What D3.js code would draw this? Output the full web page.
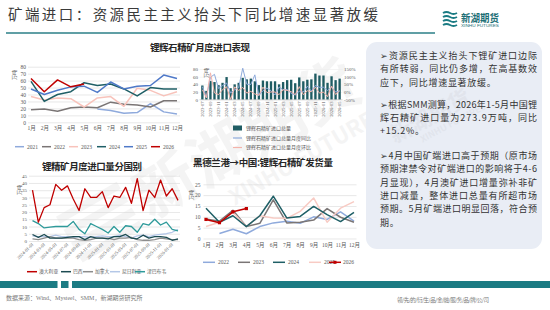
<!DOCTYPE html>
<html>
<head>
<meta charset="utf-8">
<script src="https://cdn.jsdelivr.net/npm/d3@7"></script>
<style>
  html, body { margin: 0; padding: 0; background: #fff; }
  svg { display: block; }
</style>
</head>
<body>
<div id="chart"></div>
<script>
// ---- data ----
const months = ['1月','2月','3月','4月','5月','6月','7月','8月','9月','10月','11月','12月'];

// 锂辉石精矿月度进口 (万吨)
const imp2021 = [null,null,null,null,null,19,17,13,14,27,15,12];
const imp2022 = [18,19,16,21,22,21,29,26,25,22,31,31];
const imp2023 = [37,32,35,34,22,35,37,23,49,46,38,44];
const imp2024 = [59,30,40,44,57,53,55,48,38,50,48,48];
const imp2025 = [48,40,46,51,52,43,58,48,52,53,68,63];
const imp2026 = [63,44,61,51,55];

// 进口总量 / 同比 / 环比
const ymLabels = ['2023-07','2023-08','2023-09','2023-10','2023-11','2023-12',
  '2024-01','2024-02','2024-03','2024-04','2024-05','2024-06','2024-07','2024-08','2024-09','2024-10','2024-11','2024-12',
  '2025-01','2025-02','2025-03','2025-04','2025-05','2025-06','2025-07','2025-08','2025-09','2025-10','2025-11','2025-12',
  '2026-01','2026-02','2026-03','2026-04','2026-05'];
const totalImp = [37,23,49,46,38,44, 59,30,40,44,57,53,55,48,38,50,48,48, 48,40,46,51,52,43,58,48,52,53,68,63, 63,44,61,51,55];
const yoyPct = [35,-35,96,115,23,42, 59,-6,14,29,155,51,49,112,-24,9,26,9, -19,33,15,16,-9,-19,5,0,37,6,42,31, 31,10,33,0,6];
const momPct = [15,-38,125,-6,-17,16, 34,-49,33,10,30,-7,4,-13,-21,32,-4,0, 0,-17,15,11,2,-17,35,-17,8,2,31,-7, 0,-30,39,-16,8];

// 分国别 (万吨)
const cDates = ['2024-01-01','2024-02-01','2024-03-01','2024-04-01','2024-05-01','2024-06-01','2024-07-01','2024-08-01',
  '2024-09-01','2024-10-01','2024-11-01','2024-12-01','2025-01-01','2025-02-01','2025-03-01','2025-04-01','2025-05-01',
  '2025-06-01','2025-07-01','2025-08-01','2025-09-01','2025-10-01','2025-11-01','2025-12-01','2026-01-01','2026-02-01'];
const australia = [35,13,23,25,39,35,38,29,21,36,30,30,34,23,31,30,37,26,43,21,35,30,42,31,36,28];
const brazil    = [4.5,2.5,4.5,2,2,2,2.5,3,3,1,3,2,2,1.5,3,3,4.5,2,1.5,4,2,3,3,2.5,0.5,1.5];
const canada    = [1.5,1,2,3,2,2,2,2,1,0.5,1,2,2,2,1,2,2,2.5,1,0.5,0.5,1,2,1.5,1,1];
const nigeria   = [3.5,3,3,3,4,3,3,2.5,3,3,2.5,3,3.5,3,3,4,3,2,3.5,4,3,4,4.5,5,6,8];
const zimbabwe  = [14,12,9,9.5,10,10,10,13.5,8,5,12,10,8,5.5,10,6,10.5,10,6,12,11,15,11,13,8,7];

// 黑德兰港→中国 发货量 (万吨)
const ph2022 = [null,2.3,4.3,2.2,5.5,7.2,8,7,10,8.8,12.3,8];
const ph2023 = [9,8,13,5.5,7,17.8,7.2,7.5,8.5,13.8,9.8,7.5];
const ph2024 = [14,7.5,10.5,5.5,10.5,19.5,9.5,10.2,14.8,11,7.8,12];
const ph2025 = [5.5,7.5,12,5.5,10.5,9.5,9.3,12.5,18.7,7.5,14,17];
const ph2026 = [8.8,7.3,12.3,13.8];

const notes = [
  { y: 56,    t: '➢资源民主主义抬头下锂矿进口边际', full: true },
  { y: 69.3,  t: '有所转弱，同比仍多增，在高基数效', full: true },
  { y: 82.7,  t: '应下，同比增速显著放缓。', full: false },
  { y: 105,   t: '➢根据SMM测算，2026年1-5月中国锂', full: true },
  { y: 118.3, t: '辉石精矿进口量为273.9万吨，同比', full: true },
  { y: 131.2, t: '+15.2%。', full: false },
  { y: 156,   t: '➢4月中国矿端进口高于预期（原市场', full: true },
  { y: 169.3, t: '预期津禁令对矿端进口的影响将于4-6', full: true },
  { y: 182.7, t: '月显现），4月澳矿进口增量弥补非矿', full: true },
  { y: 196,   t: '进口减量，整体进口总量有所超市场', full: true },
  { y: 209.3, t: '预期。5月矿端进口明显回落，符合预', full: true },
  { y: 222.7, t: '期。', full: false }
];

// ---- setup ----
const SERIF = '"Liberation Serif","Noto Sans CJK SC",serif';
const CJK = '"Noto Sans CJK SC","Noto Sans",sans-serif';
const TEAL = '#1b7b83';

const svg = d3.select('#chart').append('svg')
  .attr('width', 550).attr('height', 310)
  .attr('viewBox', '0 0 550 310');
svg.append('rect').attr('width', 550).attr('height', 310).attr('fill', '#fff');

// watermark
const wm = svg.append('g').attr('transform', 'translate(185,200) rotate(-30)')
  .attr('fill', '#8a8a8a').attr('opacity', 0.09).attr('font-family', CJK);
wm.append('text').attr('x', -40).attr('y', 0).attr('font-size', 62).attr('font-weight', 'bold').text('新湖期货');
wm.append('text').attr('x', 40).attr('y', 30).attr('font-size', 22).attr('font-weight', 'bold').text('XINHU FUTURES');
[0, 1, 2, 3].forEach(i => {
  wm.append('rect').attr('x', -120).attr('y', -50 + i * 15).attr('width', 70).attr('height', 8);
});

// header
svg.append('text')
  .attr('x', 8).attr('y', 15).attr('dy', '0.35em')
  .attr('font-family', CJK).attr('font-size', 14.5).attr('fill', '#3a3a3a')
  .attr('textLength', 370).attr('lengthAdjust', 'spacing')
  .text('矿端进口：资源民主主义抬头下同比增速显著放缓');
svg.append('line').attr('x1', 6).attr('x2', 435).attr('y1', 33).attr('y2', 33)
  .attr('stroke', '#2b7f87').attr('stroke-width', 1.3);

// logo
const logo = svg.append('g').attr('transform', 'translate(443,11)');
[0, 1, 2, 3].forEach(i => {
  logo.append('path')
    .attr('d', `M0,${2 + i * 4} q3.5,-2 7,0 t7,0`)
    .attr('fill', 'none').attr('stroke', TEAL).attr('stroke-width', 2);
});
logo.append('text').attr('x', 18).attr('y', 7).attr('dy', '0.35em')
  .attr('font-family', CJK).attr('font-size', 10.5).attr('font-weight', 'bold').attr('fill', '#1d6f76')
  .attr('textLength', 38).attr('lengthAdjust', 'spacingAndGlyphs').text('新湖期货');
logo.append('text').attr('x', 18).attr('y', 15).attr('dy', '0.35em')
  .attr('font-family', '"Liberation Sans",sans-serif').attr('font-size', 3.5).attr('fill', '#1d6f76')
  .attr('textLength', 38).attr('lengthAdjust', 'spacingAndGlyphs').text('XINHU FUTURES');

// ---- helpers ----
function styleAxis(g, size) {
  g.select('.domain').remove();
  g.selectAll('line').attr('stroke', '#d9d9d9').attr('stroke-width', 0.6);
  g.selectAll('text').attr('font-size', size || 5.5).attr('fill', '#595959').attr('font-family', SERIF);
}

function chartTitle(x, y, w, t) {
  svg.append('text').attr('x', x).attr('y', y).attr('dy', '0.35em')
    .attr('text-anchor', 'middle').attr('font-family', CJK).attr('font-size', 9.5)
    .attr('font-weight', 'bold').attr('fill', '#262626')
    .attr('textLength', w).attr('lengthAdjust', 'spacing').text(t);
}

function unitLabel(x, y) {
  svg.append('text').attr('transform', `translate(${x},${y}) rotate(-90)`)
    .attr('text-anchor', 'middle').attr('dy', '0.35em')
    .attr('font-family', CJK).attr('font-size', 5).attr('fill', '#595959').text('万吨');
}

function drawSeries(g, x, y, cats, vals, color, w) {
  const line = d3.line()
    .defined(d => d.v != null)
    .x(d => x(d.c)).y(d => y(d.v));
  const pts = vals.map((v, i) => ({ c: cats[i], v: v }));
  g.append('path').datum(pts)
    .attr('d', line).attr('fill', 'none')
    .attr('stroke', color).attr('stroke-width', w || 1.5)
    .attr('stroke-linejoin', 'round');
}

function legendItem(x, y, color, label, opts) {
  opts = opts || {};
  if (opts.rect) {
    svg.append('rect').attr('x', x).attr('y', y - 2.5).attr('width', 9).attr('height', 5).attr('fill', color);
  } else {
    svg.append('line').attr('x1', x).attr('x2', x + (opts.len || 10)).attr('y1', y).attr('y2', y)
      .attr('stroke', color).attr('stroke-width', opts.w || 1.5);
    if (opts.marker) {
      svg.append('rect').attr('x', x + (opts.len || 10) / 2 - 1.5).attr('y', y - 1.5)
        .attr('width', 3).attr('height', 3).attr('fill', color);
    }
  }
  svg.append('text').attr('x', x + (opts.tx || (opts.len || 10) + 3)).attr('y', y).attr('dy', '0.35em')
    .attr('font-family', SERIF).attr('font-size', opts.fs || 5.5).attr('fill', '#595959').text(label);
}

// ---- 1. 锂辉石精矿月度进口 by year ----
chartTitle(200, 48, 100, '锂辉石精矿月度进口表现');
{
  const g = svg.append('g');
  const x = d3.scalePoint().domain(months).range([31, 177]);
  const y = d3.scaleLinear().domain([0, 80]).range([122.3, 66.7]);
  g.append('g').attr('transform', 'translate(28,0)')
    .call(d3.axisLeft(y).tickValues(d3.range(0, 81, 10)).tickSize(-152).tickPadding(2))
    .call(a => styleAxis(a));
  g.append('g').attr('transform', 'translate(0,122.3)')
    .call(d3.axisBottom(x).tickSize(0).tickPadding(4))
    .call(a => styleAxis(a));
  unitLabel(14, 75);
  const series = [
    [imp2021, '#8faadc'], [imp2022, '#7a7575'], [imp2023, '#f8c3bb'],
    [imp2024, '#1f5f66'], [imp2025, '#4f79c8'], [imp2026, '#c00000']
  ];
  series.forEach(s => drawSeries(g, x, y, months, s[0], s[1], 1.5));
  const lg = [['2021', '#8faadc', 15], ['2022', '#7a7575', 42], ['2023', '#f8c3bb', 69],
              ['2024', '#1f5f66', 97], ['2025', '#4f79c8', 124], ['2026', '#c00000', 151]];
  lg.forEach(d => legendItem(d[2], 146.7, d[1], d[0], { len: 9, tx: 12 }));
}

// ---- 2. 进口总量 + 同比/环比 ----
{
  const g = svg.append('g');
  const x = d3.scaleBand().domain(ymLabels).range([199.5, 342.5]).padding(0.42);
  const yL = d3.scaleLinear().domain([0, 80]).range([99.7, 69]);
  const yR = d3.scaleLinear().domain([-50, 150]).range([99.7, 69]);
  g.append('g').attr('transform', 'translate(199.5,0)')
    .call(d3.axisLeft(yL).tickValues([0, 20, 40, 60, 80]).tickSize(-143).tickPadding(1.5))
    .call(a => styleAxis(a, 5));
  g.selectAll('line').attr('stroke', '#ececec');
  g.append('g').attr('transform', 'translate(342.5,0)')
    .call(d3.axisRight(yR).tickValues([-50, 0, 50, 100, 150]).tickSize(0).tickPadding(1.5)
      .tickFormat(d => d + '%'))
    .call(a => styleAxis(a, 5));
  unitLabel(206, 73);
  g.selectAll('.bar').data(totalImp).enter().append('rect')
    .attr('class', 'bar')
    .attr('x', (d, i) => x(ymLabels[i])).attr('width', x.bandwidth())
    .attr('y', d => yL(d)).attr('height', d => yL(0) - yL(d))
    .attr('fill', '#1f5c63');
  const xc = c => x(c) + x.bandwidth() / 2;
  drawSeries(g, xc, yR, ymLabels, yoyPct, '#8eaadb', 1);
  drawSeries(g, xc, yR, ymLabels, momPct, '#f4b3aa', 1);
  g.append('line').attr('x1', 199.5).attr('x2', 342.5).attr('y1', 99.7).attr('y2', 99.7)
    .attr('stroke', '#bfbfbf').attr('stroke-width', 0.6);
  g.selectAll('.dl').data(ymLabels.filter((d, i) => i % 2 === 0)).enter().append('text')
    .attr('transform', d => `translate(${xc(d) + 1.6},101.5) rotate(-90)`)
    .attr('text-anchor', 'end')
    .attr('font-family', SERIF).attr('font-size', 4.6).attr('fill', '#595959').text(d => d);
  legendItem(233, 128, '#1f5c63', '锂辉石精矿进口总量', { rect: true, tx: 13, fs: 5 });
  legendItem(233, 138, '#8eaadb', '锂辉石精矿进口总量月度同比', { len: 9, tx: 13, w: 1.2, fs: 5 });
  legendItem(233, 147.5, '#f4b3aa', '锂辉石精矿进口总量月度环比', { len: 9, tx: 13, w: 1.2, fs: 5 });
}

// ---- 3. 分国别 ----
chartTitle(92, 166.5, 100, '锂精矿月度进口量分国别');
{
  const g = svg.append('g');
  const x = d3.scalePoint().domain(cDates).range([32.5, 178]);
  const y = d3.scaleLinear().domain([0, 45]).range([241, 175.7]);
  g.append('g').attr('transform', 'translate(29,0)')
    .call(d3.axisLeft(y).tickValues(d3.range(0, 46, 5)).tickSize(-151).tickPadding(2))
    .call(a => styleAxis(a, 5));
  unitLabel(19, 190);
  g.selectAll('.dl').data(cDates.filter((d, i) => i % 2 === 0)).enter().append('text')
    .attr('transform', d => `translate(${x(d) + 1.5},244.5) rotate(-45)`)
    .attr('text-anchor', 'end')
    .attr('font-family', SERIF).attr('font-size', 4.6).attr('fill', '#595959').text(d => d);
  const series = [
    [nigeria, '#b4c7e7'], [canada, '#8c8c8c'], [brazil, '#1c4b52'],
    [zimbabwe, '#2e9a9a'], [australia, '#c00000']
  ];
  series.forEach(s => drawSeries(g, x, y, cDates, s[0], s[1], 1.3));
  const lg = [['澳大利亚', '#c00000', 27], ['巴西', '#1c4b52', 61], ['加拿大', '#8c8c8c', 83],
              ['尼日利亚', '#b4c7e7', 110], ['津巴布韦', '#2e9a9a', 135]];
  lg.forEach(d => legendItem(d[2], 271.7, d[1], d[0], { len: 10, tx: 12, fs: 4.8 }));
}

// ---- 4. 黑德兰港→中国 ----
chartTitle(263, 163, 140, '黑德兰港→中国:锂辉石精矿发货量');
{
  const g = svg.append('g');
  const x = d3.scalePoint().domain(months).range([206, 354]);
  const y = d3.scaleLinear().domain([0, 25]).range([238.5, 184.3]);
  g.append('g').attr('transform', 'translate(203.5,0)')
    .call(d3.axisLeft(y).tickValues(d3.range(0, 26, 5)).tickSize(-153).tickPadding(3))
    .call(a => styleAxis(a));
  g.append('g').attr('transform', 'translate(0,238.5)')
    .call(d3.axisBottom(x).tickSize(0).tickPadding(5))
    .call(a => styleAxis(a));
  unitLabel(191, 195);
  const series = [
    [ph2022, '#8faadc'], [ph2023, '#7a7575'], [ph2025, '#f8cbc4'], [ph2024, '#1f5f66'], [ph2026, '#c00000']
  ];
  series.forEach(s => drawSeries(g, x, y, months, s[0], s[1], 1.5));
  g.selectAll('.mk').data(ph2026).enter().append('rect')
    .attr('x', (d, i) => x(months[i]) - 1.6).attr('y', d => y(d) - 1.6)
    .attr('width', 3.2).attr('height', 3.2).attr('fill', '#c00000');
  const lg = [['2022', '#8faadc', 203], ['2023', '#7a7575', 238], ['2024', '#1f5f66', 273],
              ['2025', '#f8cbc4', 309]];
  lg.forEach(d => legendItem(d[2], 262.3, d[1], d[0], { len: 12, tx: 15 }));
  legendItem(329, 262.3, '#c00000', '2026', { len: 12, tx: 14, marker: true });
}

// ---- right text panel ----
svg.append('rect').attr('x', 366).attr('y', 42).attr('width', 176).attr('height', 207)
  .attr('rx', 11).attr('fill', '#e9edf5');
const wm2 = svg.append('g').attr('transform', 'translate(430,125) rotate(-28)')
  .attr('fill', '#8a8a8a').attr('opacity', 0.08).attr('font-family', CJK).attr('font-weight', 'bold');
wm2.append('text').attr('x', -40).attr('y', 0).attr('font-size', 22).text('新湖期货');
wm2.append('text').attr('x', -15).attr('y', 12).attr('font-size', 9).text('XINHU FUTURES');

svg.selectAll('.note').data(notes).enter().append('text')
  .attr('x', 380).attr('y', d => d.y).attr('dy', '0.35em')
  .attr('font-family', CJK).attr('font-size', 9).attr('fill', '#333')
  .each(function (d) {
    if (d.full) d3.select(this).attr('textLength', 157).attr('lengthAdjust', 'spacing');
    else d3.select(this).attr('letter-spacing', 0.7);
  })
  .text(d => d.t);

// ---- footer ----
[[0, 57.5], [61, 68.5], [72, 550]].forEach(s => {
  svg.append('rect').attr('x', s[0]).attr('y', 281).attr('width', s[1] - s[0]).attr('height', 7).attr('fill', TEAL);
});
svg.append('text').attr('x', 6).attr('y', 297.5).attr('dy', '0.35em')
  .attr('font-family', SERIF).attr('font-size', 6).attr('fill', '#777')
  .text('数据来源：Wind、Mysteel、SMM，新湖期货研究所');
svg.append('text').attr('x', 397).attr('y', 300).attr('dy', '0.35em')
  .attr('font-family', CJK).attr('font-size', 5.5).attr('fill', '#777')
  .attr('textLength', 92).attr('lengthAdjust', 'spacing')
  .text('领/先/的/衍/生/品/金/融/服/务/品/牌/公/司');
</script>
</body>
</html>
